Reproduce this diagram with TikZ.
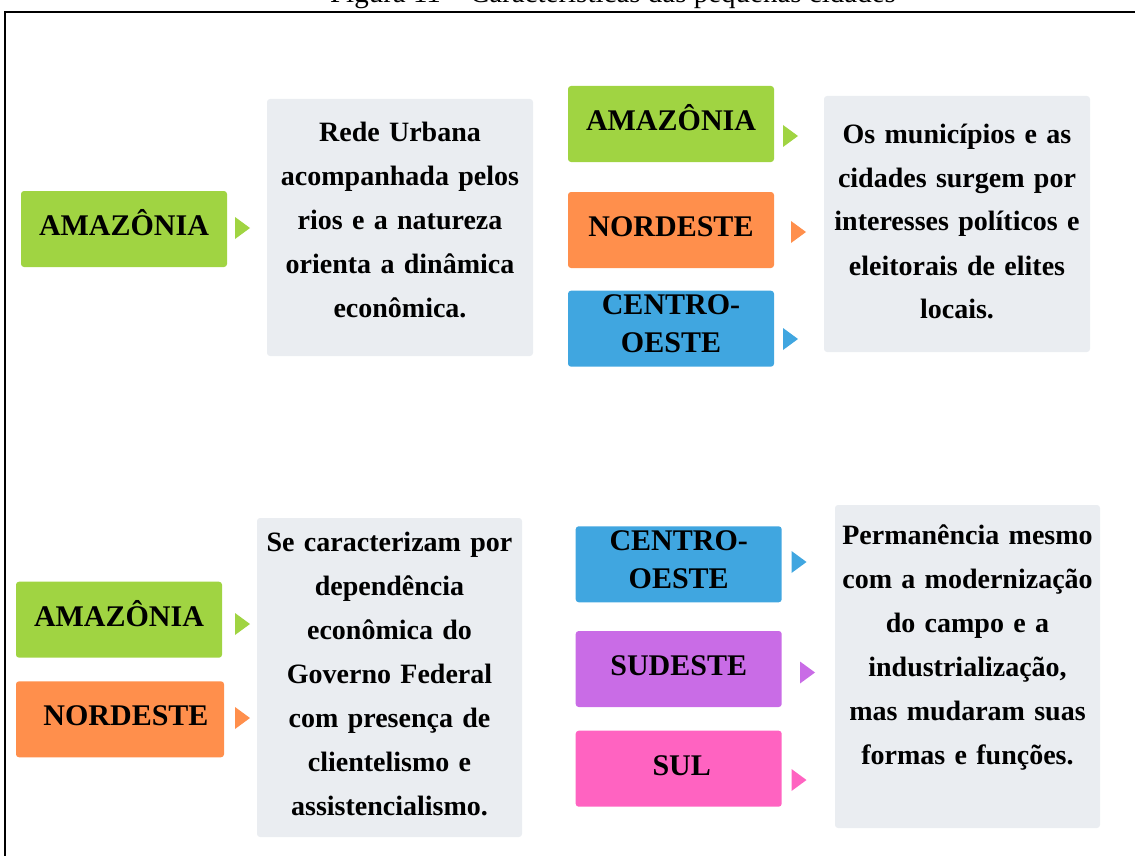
\documentclass[tikz,border=0pt]{standalone}
\usepackage{fontspec}
\setmainfont{Liberation Serif}
\usetikzlibrary{shapes.geometric,positioning}
\definecolor{verde}{RGB}{160,212,66}
\definecolor{laranja}{RGB}{255,143,76}
\definecolor{azul}{RGB}{64,166,224}
\definecolor{roxo}{RGB}{201,108,230}
\definecolor{rosa}{RGB}{255,99,193}
\definecolor{cinza}{RGB}{234,237,241}
\tikzset{
 reg/.style
  = {rectangle, rounded corners=3pt, inner sep=0pt, minimum width=206pt, minimum height=76pt,
     text height=20pt, text depth=7pt, font=\fontsize{30}{38}\selectfont\bfseries},
 regg/.style
  = {reg, text width=200pt, align=center, text height=0pt, text depth=28pt},
 txt/.style
  = {rectangle, fill=cinza, rounded corners=3pt, inner sep=0pt, text width=255pt,
     align=center, text height=0pt, font=\fontsize{28}{44}\selectfont\bfseries},
}
\newcommand{\seta}[2]{\fill[#1] (#2) ++(0,-11) -- ++(15,11) -- ++(-15,11) -- cycle;}
\begin{document}
\begin{tikzpicture}[x=1pt, y=-1pt]
\useasboundingbox (0,0) rectangle (1135,856);

% Title and frame
\node[anchor=base, font=\fontsize{29}{35}\selectfont] (tit) at (613,3)
  {Figura 11 -- Características das pequenas cidades};
\draw[line width=2pt] (1140,12) -- (5,12) -- (5,870);

% Amazonia (top left)
\node[reg, fill=verde] (am1) at (124,229) {AMAZÔNIA};
\coordinate (s1) at (235,228); \seta{verde}{s1}
\node[txt, minimum width=266pt, minimum height=257pt, text depth=172pt] (t1) at (400,227.5)
  {Rede Urbana\\ acompanhada pelos\\ rios e a natureza\\ orienta a dinâmica\\ econômica.};

% Amazonia, Nordeste, Centro-Oeste (top right)
\node[reg, fill=verde] (am2) at (671,124) {AMAZÔNIA};
\node[reg, fill=laranja] (ne2) at (671,230) {NORDESTE};
\node[regg, fill=azul] (co2) at (671,328.7) {CENTRO-\\OESTE};
\coordinate (s2) at (783,136); \seta{verde}{s2}
\coordinate (s3) at (791,232); \seta{laranja}{s3}
\coordinate (s4) at (783,339); \seta{azul}{s4}
\node[txt, minimum width=266pt, minimum height=256pt, text depth=162pt] (t2) at (957,224)
  {Os municípios e as\\ cidades surgem por\\ interesses políticos e\\ eleitorais de elites\\ locais.};

% Amazonia, Nordeste (bottom left)
\node[reg, fill=verde] (am3) at (119,619.7) {AMAZÔNIA};
\node[reg, fill=laranja, minimum width=208pt] (ne3) at (120,719.3) {\hspace{12pt}NORDESTE};
\coordinate (s5) at (235,624); \seta{verde}{s5}
\coordinate (s6) at (235,718); \seta{laranja}{s6}
\node[txt, minimum width=265pt, minimum height=319pt, text depth=252pt] (t3) at (389.5,677.5)
  {Se caracterizam por\\ dependência\\ econômica do\\ Governo Federal\\ com presença de\\ clientelismo e\\ assistencialismo.};

% Centro-Oeste, Sudeste, Sul (bottom right)
\node[regg, fill=azul] (co4) at (678.7,564.3) {CENTRO-\\OESTE};
\node[reg, fill=roxo] (se4) at (678.7,669) {SUDESTE};
\node[reg, fill=rosa] (su4) at (678.7,768.7) {\hspace{6pt}SUL};
\coordinate (s7) at (791.5,562); \seta{azul}{s7}
\coordinate (s8) at (800,672.5); \seta{roxo}{s8}
\coordinate (s9) at (791.5,780); \seta{rosa}{s9}
\node[txt, minimum width=265pt, minimum height=323pt, text depth=245pt] (t4) at (967.5,666.5)
  {Permanência mesmo\\ com a modernização\\ do campo e a\\ industrialização,\\ mas mudaram suas\\ formas e funções.};

\end{tikzpicture}
\end{document}
